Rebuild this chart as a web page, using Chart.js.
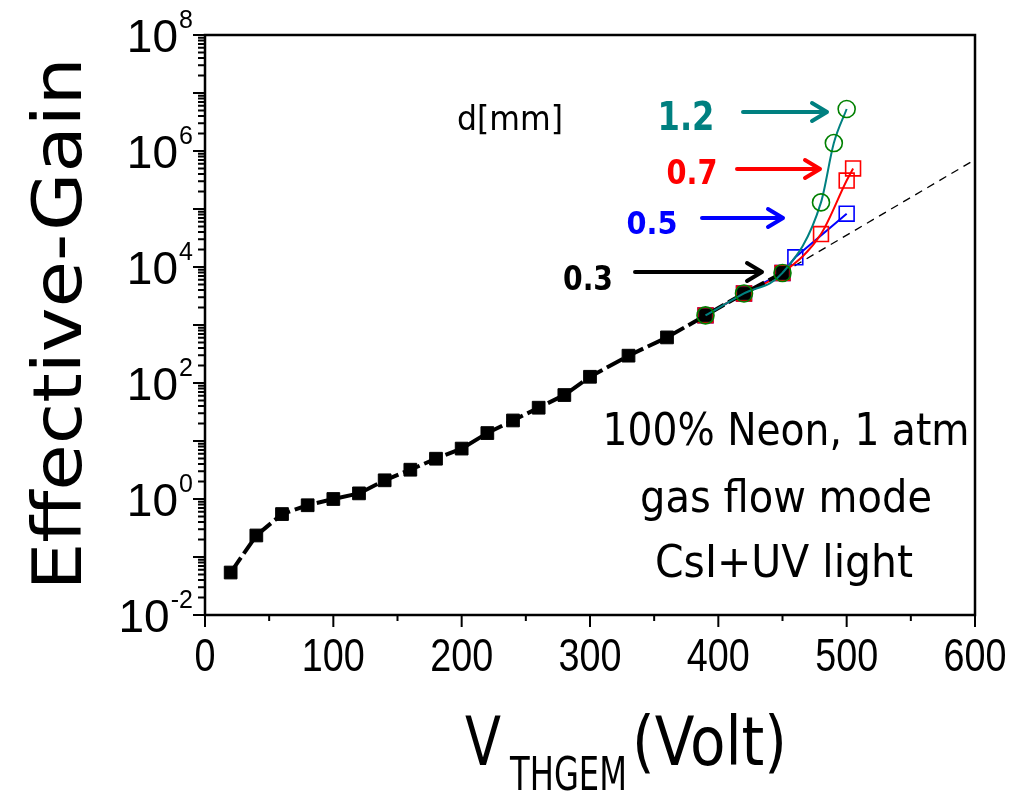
<!DOCTYPE html>
<html>
<head>
<meta charset="utf-8">
<script src="https://cdn.jsdelivr.net/npm/chart.js@4/dist/chart.umd.min.js"></script>
<style>
  html, body { margin: 0; padding: 0; background: #fff; }
  canvas { display: block; }
</style>
</head>
<body>
<canvas id="gain" width="1028" height="792"></canvas>
<script>
// THGEM effective gain vs. voltage, 100% Ne at 1 atm
const volt03 = [20, 40, 60, 80, 100, 120, 140, 160, 180, 200, 220, 240, 260, 280, 300, 330, 360, 390, 420, 450];
const gain03 = [0.054, 0.235, 0.55, 0.78, 1.0, 1.25, 2.1, 3.2, 4.95, 7.4, 13.7, 22.6, 37.5, 62, 128, 296, 611, 1465, 3500, 7900];

const volt05 = [390, 420, 450, 460, 500];
const gain05 = [1465, 3500, 7900, 14700, 83000];

const volt07 = [390, 420, 450, 480, 500, 505];
const gain07 = [1465, 3500, 7900, 37000, 310000, 500000];

const volt12 = [390, 420, 450, 480, 490, 500];
const gain12 = [1465, 3500, 7900, 130000, 1370000, 5300000];

// exponential extrapolation of the 0.3 mm curve
const fitVolt = [450, 600];
const fitGain = [7900, 710000];

const xTicks = [0, 100, 200, 300, 400, 500, 600];
const yTickExp = [-2, 0, 2, 4, 6, 8];

const toXY = (xs, ys) => xs.map((v, i) => ({ x: v, y: ys[i] }));

const COMIC = '"Comic Sans MS", "DejaVu Sans", sans-serif';
const ARIAL = '"Liberation Sans", Arial, sans-serif';

// draw text so that its cap height and total width hit the given box
function fitText(ctx, text, x, base, capH, width, align, weight, color) {
  ctx.save();
  ctx.font = `${weight} 100px ${COMIC}`;
  const cap = ctx.measureText('H').actualBoundingBoxAscent || 73;
  const size = capH * 100 / cap;
  ctx.font = `${weight} ${size}px ${COMIC}`;
  const w = ctx.measureText(text).width;
  ctx.translate(x, base);
  ctx.scale(width / w, 1);
  ctx.textAlign = align;
  ctx.textBaseline = 'alphabetic';
  ctx.fillStyle = color;
  ctx.fillText(text, 0, 0);
  ctx.restore();
}

function arrow(ctx, x0, x1, y, color) {
  ctx.save();
  ctx.strokeStyle = color;
  ctx.lineWidth = 4;
  ctx.lineCap = 'round';
  ctx.lineJoin = 'round';
  ctx.beginPath();
  ctx.moveTo(x0, y);
  ctx.lineTo(x1, y);
  ctx.moveTo(x1 - 15, y - 9);
  ctx.lineTo(x1, y);
  ctx.lineTo(x1 - 15, y + 9);
  ctx.stroke();
  ctx.restore();
}

const decor = {
  id: 'decor',
  afterDraw(chart) {
    const { ctx, chartArea: a } = chart;
    const xs = chart.scales.x, ys = chart.scales.y;
    ctx.save();

    // frame
    ctx.strokeStyle = '#000';
    ctx.lineWidth = 2.5;
    ctx.strokeRect(a.left, a.top, a.right - a.left, a.bottom - a.top);

    // y ticks: one per decade, minor ticks at 2..9
    ctx.lineWidth = 2;
    ctx.beginPath();
    for (let n = -2; n <= 8; n++) {
      const yy = ys.getPixelForValue(Math.pow(10, n));
      ctx.moveTo(a.left - 12, yy);
      ctx.lineTo(a.left, yy);
      if (n === 8) continue;
      for (let m = 2; m <= 9; m++) {
        const ym = ys.getPixelForValue(m * Math.pow(10, n));
        ctx.moveTo(a.left - 7, ym);
        ctx.lineTo(a.left, ym);
      }
    }
    // x ticks
    for (let v = 0; v <= 600; v += 50) {
      const xx = xs.getPixelForValue(v);
      const len = v % 100 === 0 ? 12 : 6;
      ctx.moveTo(xx, a.bottom);
      ctx.lineTo(xx, a.bottom + len);
    }
    ctx.stroke();

    // y tick labels 10^n
    ctx.fillStyle = '#000';
    ctx.textBaseline = 'alphabetic';
    ctx.font = `46px ${ARIAL}`;
    const expFont = `25px ${ARIAL}`;
    ctx.font = expFont;
    const digitW = ctx.measureText('8').width;
    yTickExp.forEach(n => {
      const yy = ys.getPixelForValue(Math.pow(10, n));
      const sup = n < 0 ? '-' + (-n) : String(n);
      ctx.font = expFont;
      const supW = ctx.measureText(sup).width;
      const right = 178 - (supW - digitW);
      ctx.font = `46px ${ARIAL}`;
      ctx.textAlign = 'right';
      ctx.fillText('10', right, yy + 16.5);
      ctx.font = expFont;
      ctx.textAlign = 'left';
      ctx.fillText(sup, right + 1, yy - 7);
    });

    // x tick labels, condensed
    ctx.font = `46px ${ARIAL}`;
    ctx.textAlign = 'center';
    xTicks.forEach(v => {
      const xx = xs.getPixelForValue(v);
      ctx.save();
      ctx.translate(xx, 671);
      ctx.scale(0.82, 1);
      ctx.fillText(String(v), 0, 0);
      ctx.restore();
    });

    // axis titles
    ctx.save();
    ctx.translate(81, 324);
    ctx.rotate(-Math.PI / 2);
    fitText(ctx, 'Effective-Gain', 0, 0, 50, 533, 'center', 'normal', '#000');
    ctx.restore();

    fitText(ctx, 'V', 465, 765, 49, 36, 'left', 'normal', '#000');
    fitText(ctx, 'THGEM', 510, 790, 34, 117, 'left', 'normal', '#000');
    fitText(ctx, '(Volt)', 632, 765, 49, 155, 'left', 'normal', '#000');

    // conditions
    fitText(ctx, '100% Neon, 1 atm', 786, 445, 33, 367, 'center', 'normal', '#000');
    fitText(ctx, 'gas flow mode', 786, 512, 33, 292, 'center', 'normal', '#000');
    fitText(ctx, 'CsI+UV light', 784, 577, 32, 258, 'center', 'normal', '#000');

    // hole diameter labels
    fitText(ctx, 'd[mm]', 510, 130, 25, 106, 'center', 'normal', '#000');
    fitText(ctx, '1.2', 686, 130, 28, 57, 'center', 'bold', '#008080');
    fitText(ctx, '0.7', 692, 184, 24, 51, 'center', 'bold', '#ff0000');
    fitText(ctx, '0.5', 652, 234, 23, 51, 'center', 'bold', '#0000ff');
    fitText(ctx, '0.3', 588, 290, 24, 50, 'center', 'bold', '#000');
    arrow(ctx, 743, 827, 112, '#008080');
    arrow(ctx, 737, 820, 169, '#ff0000');
    arrow(ctx, 702, 783, 218, '#0000ff');
    arrow(ctx, 635, 762, 272, '#000');

    ctx.restore();
  }
};

new Chart(document.getElementById('gain').getContext('2d'), {
  type: 'scatter',
  data: {
    datasets: [
      {
        label: '1.2',
        data: toXY(volt12, gain12),
        showLine: true,
        borderColor: '#008080',
        borderWidth: 2,
        cubicInterpolationMode: 'monotone',
        pointStyle: 'circle',
        pointRadius: 8.5,
        pointBorderColor: '#008000',
        pointBorderWidth: 1.6,
        pointBackgroundColor: 'rgba(0,0,0,0)',
      },
      {
        label: '0.3',
        data: toXY(volt03, gain03),
        showLine: true,
        borderColor: '#000',
        borderWidth: 4,
        borderDash: [18, 5],
        pointStyle: 'rect',
        pointRadius: 9,
        pointBorderColor: '#000',
        pointBorderWidth: 1,
        pointBackgroundColor: '#000',
      },
      {
        label: '0.7',
        data: toXY(volt07, gain07),
        showLine: true,
        borderColor: '#ff0000',
        borderWidth: 2,
        cubicInterpolationMode: 'monotone',
        pointStyle: 'rect',
        pointRadius: 10.5,
        pointBorderColor: '#ff0000',
        pointBorderWidth: 1.6,
        pointBackgroundColor: 'rgba(0,0,0,0)',
      },
      {
        label: '0.5',
        data: toXY(volt05, gain05),
        showLine: true,
        borderColor: '#0000ff',
        borderWidth: 2,
        pointStyle: 'rect',
        pointRadius: 10.5,
        pointBorderColor: '#0000ff',
        pointBorderWidth: 1.6,
        pointBackgroundColor: 'rgba(0,0,0,0)',
      },
      {
        label: 'fit',
        data: toXY(fitVolt, fitGain),
        showLine: true,
        borderColor: '#000',
        borderWidth: 1.3,
        borderDash: [8, 6],
        pointRadius: 0,
      },
    ],
  },
  options: {
    responsive: false,
    animation: false,
    layout: { padding: { left: 205, right: 53, top: 35, bottom: 177 } },
    plugins: { legend: { display: false }, tooltip: { enabled: false } },
    scales: {
      x: { type: 'linear', min: 0, max: 600, display: false },
      y: { type: 'logarithmic', min: 0.01, max: 1e8, display: false },
    },
  },
  plugins: [decor],
});
</script>
</body>
</html>
